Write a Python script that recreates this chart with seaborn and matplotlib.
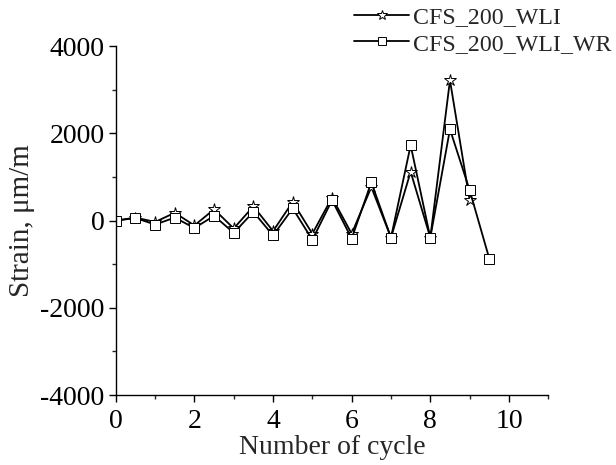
import numpy as np
import pandas as pd
import matplotlib
matplotlib.use("Agg")
import matplotlib.pyplot as plt
import seaborn as sns
from matplotlib.ticker import MultipleLocator

cycles_wli = [0, 0.5, 1, 1.5, 2, 2.5, 3, 3.5, 4, 4.5, 5, 5.5, 6, 6.5, 7, 7.5, 8, 8.5, 9]
strain_wli = [0, 70, -30, 180, -110, 260, -180, 330, -240, 430, -300, 530, -300, 770, -390, 1120, -390, 3220, 470]

cycles_wr = [0, 0.5, 1, 1.5, 2, 2.5, 3, 3.5, 4, 4.5, 5, 5.5, 6, 6.5, 7, 7.5, 8, 8.5, 9, 9.5]
strain_wr = [0, 60, -90, 70, -170, 110, -280, 200, -340, 280, -440, 470, -410, 880, -390, 1730, -390, 2095, 700, -870]

series_names = ["CFS_200_WLI", "CFS_200_WLI_WR"]

df = pd.concat([
    pd.DataFrame({"cycle": cycles_wli, "strain": strain_wli, "series": series_names[0]}),
    pd.DataFrame({"cycle": cycles_wr, "strain": strain_wr, "series": series_names[1]}),
], ignore_index=True)

sns.set_style("ticks")
plt.rcParams["font.family"] = "serif"
plt.rcParams["font.serif"] = ["Liberation Serif", "DejaVu Serif"]
plt.rcParams["axes.unicode_minus"] = False

fig = plt.figure(figsize=(6.16, 4.65), dpi=100)
ax = fig.add_axes([0.188, 0.1505, 0.702, 0.75])

sns.lineplot(data=df, x="cycle", y="strain", hue="series", style="series",
             markers={series_names[0]: "*", series_names[1]: "s"},
             dashes=False, palette={series_names[0]: "black", series_names[1]: "black"},
             linewidth=1.3, markersize=7, markerfacecolor="white",
             markeredgecolor="black", markeredgewidth=0.7, ax=ax, legend=True)

for ln in ax.lines:
    if ln.get_marker() == "*":
        ln.set_markersize(9)
    elif ln.get_marker() == "s":
        ln.set_markersize(6.5)

ax.set_xlim(0, 11)
ax.set_ylim(-4000, 4000)
ax.set_xticks([0, 2, 4, 6, 8, 10])
ax.xaxis.set_minor_locator(MultipleLocator(1))
ax.yaxis.set_major_locator(MultipleLocator(2000))
ax.yaxis.set_minor_locator(MultipleLocator(1000))
ax.tick_params(axis="both", which="major", direction="out", length=5, width=1, labelsize=20, colors="black")
ax.tick_params(axis="x", which="major", pad=5)
ax.tick_params(axis="y", which="major", pad=3)
ax.tick_params(axis="both", which="minor", direction="out", length=3, width=1)
for s in ["top", "right"]:
    ax.spines[s].set_visible(False)
for s in ["left", "bottom"]:
    ax.spines[s].set_linewidth(1.0)
    ax.spines[s].set_color("black")

ax.set_xlabel("Number of cycle", fontsize=20, labelpad=1)
ax.set_ylabel("Strain, μm/m", fontsize=21, labelpad=4)

handles, labels = ax.get_legend_handles_labels()
for h in handles:
    if h.get_marker() == "*":
        h.set_markersize(7)
    elif h.get_marker() == "s":
        h.set_markersize(5.5)
ax.legend(handles=handles, labels=labels, loc="upper right",
          bbox_to_anchor=(1.012, 1.012), bbox_transform=fig.transFigure,
          frameon=False, fontsize=17.2, handlelength=2.3, handletextpad=0.15,
          labelspacing=0.2, borderaxespad=0.1)

fig.savefig("out.png", dpi=100)
